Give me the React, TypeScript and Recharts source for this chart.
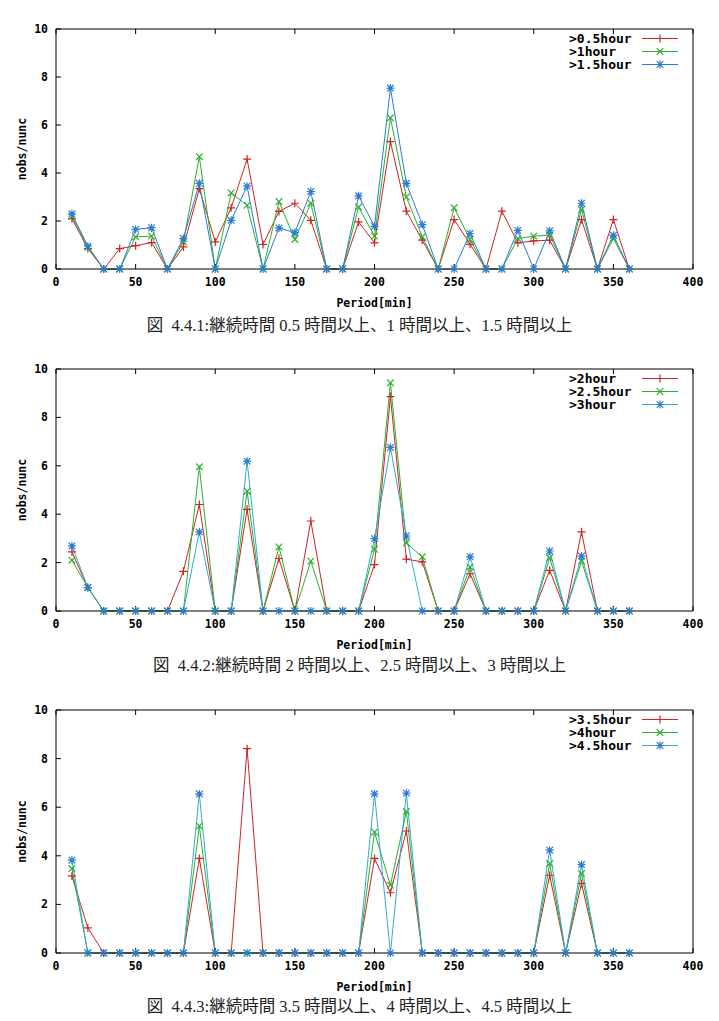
import React from "react";
import { Legend, Line, LineChart, XAxis, YAxis } from "recharts";

// x positions (Period[min])
const minutes = [
	10, 20, 30, 40, 50, 60, 70, 80, 90, 100, 110, 120, 130, 140, 150, 160, 170, 180,
	190, 200, 210, 220, 230, 240, 250, 260, 270, 280, 290, 300, 310, 320, 330, 340, 350, 360,
];

// 図 4.4.1
const over05h = [
	2.1, 0.85, 0, 0.85, 0.97, 1.1, 0, 0.92, 3.35, 1.13, 2.55, 4.58, 1.02, 2.4, 2.74, 2.03, 0, 0,
	1.96, 1.09, 5.31, 2.41, 1.2, 0, 2.06, 1.03, 0, 2.41, 1.09, 1.17, 1.2, 0, 2.06, 0, 2.06, 0,
];
const over1h = [
	2.2, 0.9, 0, 0, 1.34, 1.37, 0, 1.13, 4.68, 0, 3.17, 2.65, 0, 2.81, 1.23, 2.74, 0, 0,
	2.58, 1.37, 6.3, 3.0, 1.34, 0, 2.55, 1.23, 0, 0, 1.27, 1.37, 1.41, 0, 2.47, 0, 1.27, 0,
];
const over15h = [
	2.3, 0.95, 0, 0, 1.65, 1.72, 0, 1.27, 3.57, 0, 2.03, 3.45, 0, 1.71, 1.52, 3.23, 0, 0,
	3.05, 1.78, 7.54, 3.57, 1.85, 0, 0, 1.48, 0, 0, 1.61, 0, 1.59, 0, 2.74, 0, 1.41, 0,
];

// 図 4.4.2
const over2h = [
	2.44, 0.97, 0, 0, 0, 0, 0, 1.64, 4.4, 0, 0, 4.2, 0, 2.17, 0, 3.72, 0, 0,
	0, 1.92, 8.86, 2.14, 2.03, 0, 0, 1.54, 0, 0, 0, 0, 1.68, 0, 3.27, 0, 0, 0,
];
const over25h = [
	2.1, 0.97, 0, 0, 0, 0, 0, 0, 5.96, 0, 0, 4.95, 0, 2.65, 0, 2.06, 0, 0,
	0, 2.55, 9.43, 2.81, 2.24, 0, 0, 1.82, 0, 0, 0, 0, 2.2, 0, 2.06, 0, 0, 0,
];
const over3h = [
	2.69, 0.97, 0, 0, 0, 0, 0, 0, 3.27, 0, 0, 6.19, 0, 0, 0, 0, 0, 0,
	0, 2.99, 6.76, 3.1, 0, 0, 0, 2.24, 0, 0, 0, 0, 2.48, 0, 2.27, 0, 0, 0,
];

// 図 4.4.3
const over35h = [
	3.17, 1.03, 0, 0, 0, 0, 0, 0, 3.89, 0, 0, 8.41, 0, 0, 0, 0, 0, 0,
	0, 3.89, 2.48, 5.02, 0, 0, 0, 0, 0, 0, 0, 0, 3.2, 0, 2.86, 0, 0, 0,
];
const over4h = [
	3.48, 0, 0, 0, 0, 0, 0, 0, 5.23, 0, 0, 0, 0, 0, 0, 0, 0, 0,
	0, 4.97, 2.79, 5.82, 0, 0, 0, 0, 0, 0, 0, 0, 3.68, 0, 3.27, 0, 0, 0,
];
const over45h = [
	3.82, 0, 0, 0, 0, 0, 0, 0, 6.54, 0, 0, 0, 0, 0, 0, 0, 0, 0,
	0, 6.55, 0, 6.58, 0, 0, 0, 0, 0, 0, 0, 0, 4.23, 0, 3.64, 0, 0, 0,
];

const xTicks = [0, 50, 100, 150, 200, 250, 300, 350, 400];
const yTicks = [0, 2, 4, 6, 8, 10];

const RED = "#cc2424";
const GREEN = "#2cb02c";
const BLUE = "#2a7ccc";
const CYAN = "#34a8d8";

const MONO = "'DejaVu Sans Mono', monospace";
const SERIF = "'Liberation Serif', 'DejaVu Serif', 'Noto Sans CJK JP', serif";

type Shape = "plus" | "cross" | "star";

interface Series {
	name: string;
	values: number[];
	color: string;
	markColor: string;
	shape: Shape;
}

function Marker({ cx, cy, shape, color }: { cx: number; cy: number; shape: Shape; color: string }) {
	const r = 4;
	const d = 3.3;
	const plus = `M${cx - r},${cy}H${cx + r}M${cx},${cy - r}V${cy + r}`;
	const cross = `M${cx - d},${cy - d}L${cx + d},${cy + d}M${cx - d},${cy + d}L${cx + d},${cy - d}`;
	const path = shape === "plus" ? plus : shape === "cross" ? cross : plus + cross;
	return <path d={path} stroke={color} strokeWidth={1.2} fill="none" />;
}

const PANELS = [
	{
		top: 0,
		plotH: 240,
		caption: "図  4.4.1:継続時間 0.5 時間以上、1 時間以上、1.5 時間以上",
		series: [
			{ name: ">0.5hour", values: over05h, color: RED, markColor: RED, shape: "plus" },
			{ name: ">1hour", values: over1h, color: GREEN, markColor: GREEN, shape: "cross" },
			{ name: ">1.5hour", values: over15h, color: BLUE, markColor: BLUE, shape: "star" },
		] as Series[],
	},
	{
		top: 340,
		plotH: 242,
		caption: "図  4.4.2:継続時間 2 時間以上、2.5 時間以上、3 時間以上",
		series: [
			{ name: ">2hour", values: over2h, color: RED, markColor: RED, shape: "plus" },
			{ name: ">2.5hour", values: over25h, color: GREEN, markColor: GREEN, shape: "cross" },
			{ name: ">3hour", values: over3h, color: CYAN, markColor: BLUE, shape: "star" },
		] as Series[],
	},
	{
		top: 681,
		plotH: 243,
		caption: "図  4.4.3:継続時間 3.5 時間以上、4 時間以上、4.5 時間以上",
		series: [
			{ name: ">3.5hour", values: over35h, color: RED, markColor: RED, shape: "plus" },
			{ name: ">4hour", values: over4h, color: GREEN, markColor: GREEN, shape: "cross" },
			{ name: ">4.5hour", values: over45h, color: CYAN, markColor: BLUE, shape: "star" },
		] as Series[],
	},
];

const tickFont = { fill: "#000", fontSize: 11.5, fontFamily: MONO, fontWeight: "bold" };

function KeyBox({ series }: { series: Series[] }) {
	return (
		<svg width={140} height={46} style={{ display: "block" }}>
			{series.map((s, i) => {
				const y = 9.5 + 13 * i;
				return (
					<g key={s.name}>
						<text
							x={9}
							y={y}
							textAnchor="start"
							dominantBaseline="central"
							style={{ fontFamily: MONO, fontSize: 13, fontWeight: "bold" }}
							fill="#000"
						>
							{s.name}
						</text>
						<line x1={82} x2={118} y1={y} y2={y} stroke={s.color} strokeWidth={1} />
						<Marker cx={100} cy={y} shape={s.shape} color={s.markColor} />
					</g>
				);
			})}
		</svg>
	);
}

function Panel({ top, plotH, caption, series }: (typeof PANELS)[number]) {
	const rows = minutes.map((m, i) => {
		const row: Record<string, number> = { x: m };
		series.forEach((s) => {
			row[s.name] = s.values[i];
		});
		return row;
	});
	const height = 29 + plotH + 41;
	return (
		<div style={{ position: "absolute", left: 0, top, width: 719 }}>
			<LineChart width={719} height={height} data={rows} margin={{ top: 28, right: 25, left: 16, bottom: 1 }}>
				<XAxis
					dataKey="x"
					type="number"
					domain={[0, 400]}
					ticks={xTicks}
					interval={0}
					height={40}
					tickSize={-5}
					tickMargin={14}
					tick={tickFont}
					tickLine={{ stroke: "#000" }}
					axisLine={{ stroke: "#000" }}
					label={{
						content: (p: any) => {
							const vb = p.viewBox;
							return (
								<text
									x={vb.x + vb.width / 2}
									y={vb.y + 38}
									textAnchor="middle"
									style={{ fontFamily: MONO, fontSize: 11.5, fontWeight: "bold" }}
									fill="#000"
								>
									Period[min]
								</text>
							);
						},
					}}
				/>
				<XAxis
					xAxisId="top"
					orientation="top"
					dataKey="x"
					type="number"
					domain={[0, 400]}
					ticks={xTicks}
					interval={0}
					height={1}
					tickSize={-5}
					tick={() => <g />}
					tickLine={{ stroke: "#000" }}
					axisLine={{ stroke: "#000" }}
				/>
				<YAxis
					type="number"
					domain={[0, 10]}
					ticks={yTicks}
					interval={0}
					width={40}
					tickSize={-5}
					tickMargin={13}
					tick={tickFont}
					tickLine={{ stroke: "#000" }}
					axisLine={{ stroke: "#000" }}
					label={{
						content: (p: any) => {
							const vb = p.viewBox;
							const x = vb.x + 6;
							const y = vb.y + vb.height / 2;
							return (
								<text
									x={x}
									y={y}
									transform={`rotate(-90, ${x}, ${y})`}
									textAnchor="middle"
									dominantBaseline="central"
									style={{ fontFamily: MONO, fontSize: 11.5, fontWeight: "bold" }}
									fill="#000"
								>
									nobs/nunc
								</text>
							);
						},
					}}
				/>
				<YAxis
					yAxisId="right"
					orientation="right"
					type="number"
					domain={[0, 10]}
					ticks={yTicks}
					interval={0}
					width={1}
					tickSize={-5}
					tick={() => <g />}
					tickLine={{ stroke: "#000" }}
					axisLine={{ stroke: "#000" }}
				/>
				<Legend
					layout="vertical"
					align="center"
					verticalAlign="middle"
					wrapperStyle={{ position: "absolute", left: 560, top: 29, width: 140, height: 46 }}
					content={() => <KeyBox series={series} />}
				/>
				{series.map((s) => (
					<Line
						key={s.name}
						type="linear"
						dataKey={s.name}
						name={s.name}
						stroke={s.color}
						strokeWidth={1}
						isAnimationActive={false}
						dot={(p: any) => (
							<Marker key={`${s.name}-${p.index}`} cx={p.cx} cy={p.cy} shape={s.shape} color={s.markColor} />
						)}
						activeDot={false}
					/>
				))}
			</LineChart>
			<div
				style={{
					position: "absolute",
					left: 0,
					top: 316,
					width: 719,
					textAlign: "center",
					whiteSpace: "pre",
					fontFamily: SERIF,
					fontSize: 16.5,
					lineHeight: "20px",
					color: "#222",
				}}
			>
				{caption}
			</div>
		</div>
	);
}

export default function App() {
	return (
		<div style={{ position: "absolute", left: 0, top: 0, width: 719, height: 1021, background: "#fff" }}>
			{PANELS.map((p) => (
				<Panel key={p.caption} {...p} />
			))}
		</div>
	);
}
